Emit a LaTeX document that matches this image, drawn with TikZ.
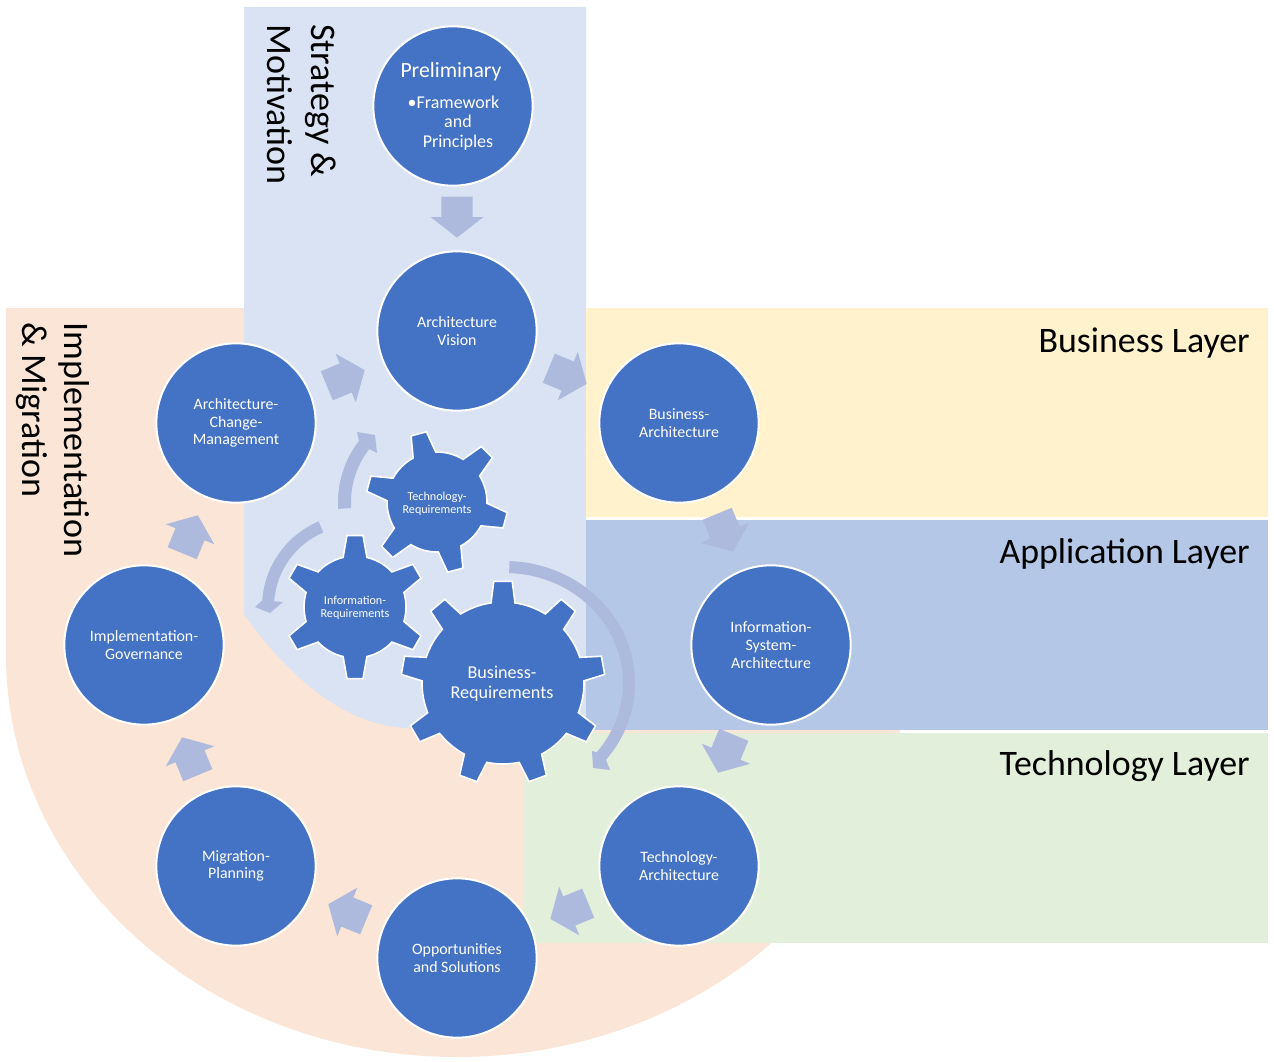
\documentclass[tikz,border=0pt]{standalone}
\usepackage{fontspec}
\setmainfont{Carlito}
\usetikzlibrary{calc,shapes.arrows}
\definecolor{stepblue}{HTML}{4472C4}
\definecolor{flowblue}{HTML}{AEBADD}
\definecolor{stratfill}{HTML}{DAE3F3}
\definecolor{implfill}{HTML}{FBE5D6}
\definecolor{bizfill}{HTML}{FFF2CC}
\definecolor{appfill}{HTML}{B4C7E7}
\definecolor{techfill}{HTML}{E2EFDA}
\tikzset{
	stepcircle/.style={circle, fill=stepblue, draw=white, line width=1.5pt, minimum size=119.5pt, inner sep=0pt, text=white, align=center, font=\fontsize{11.9}{13.2}\selectfont},
	gearline/.style={fill=stepblue, draw=white, line width=1.2pt, line join=miter},
	gearlabel/.style={text=white, align=center, inner sep=0pt},
	flowarrow/.style={single arrow, fill=flowblue, minimum width=39pt, minimum height=30.75pt, single arrow head extend=7.9pt, single arrow tip angle=104, inner xsep=0pt, inner ysep=11.6pt, anchor=tip},
	layerlabel/.style={anchor=base east, inner sep=0pt, font=\fontsize{26.9}{30}\selectfont},
	sidelabel/.style={rotate=-90, anchor=north west, align=left, inner sep=0pt, font=\fontsize{27}{33}\selectfont}
}
% centre, teeth, first angle, body radius, tip radius, base half angle, tip half angle
\newcommand{\gearshape}[7]{
	\pgfmathsetmacro{\gearstep}{360/#2}
	\begin{scope}[shift={(#1)}]
		\filldraw[gearline] ({#3-#6}:#4)
		\foreach \k [evaluate=\k as \a using {#3+(\k-1)*\gearstep}] in {1,...,#2}{
			-- ({\a-#6}:#4) -- ({\a-#7}:#5) -- ({\a+#7}:#5) -- ({\a+#6}:#4)
			arc[start angle=\a+#6, end angle=\a+\gearstep-#6, radius=#4]
		} -- cycle;
	\end{scope}
}
% centre, start angle, end angle, inner radius, outer radius, inner wing, tip, outer wing
\newcommand{\bentarrow}[8]{
	\fill[flowblue] ($(#1)+(#2:#4)$) arc[start angle=#2, end angle=#3, radius=#4]
		-- (#6) -- (#7) -- (#8) -- ($(#1)+(#3:#5)$)
		arc[start angle=#3, end angle=#2, radius=#5] -- cycle;
}

\begin{document}
\begin{tikzpicture}[x=0.75pt,y=-0.75pt]
	\useasboundingbox (0,0) rectangle (1274,1062);

	% areas
	\fill[implfill] (6,308) rectangle (400,656);
	\fill[implfill] (6,655) arc[start angle=180, end angle=0, x radius=451, y radius=402] -- cycle;
	\fill[stratfill] (244,7) -- (586,7) -- (586,728) -- (410,728) .. controls (350,728) and (290,680) .. (244,614) -- cycle;
	\fill[bizfill] (586,308) rectangle (1268,517);
	\fill[appfill] (586,520) rectangle (1268,730);
	\fill[techfill] (524,733) rectangle (1268,943);

	% labels of the areas
	\node[sidelabel] (strategy) at (336,24) {Strategy \&\\Motivation};
	\node[sidelabel, font=\fontsize{27}{31.8}\selectfont] (implementation) at (90,322) {Implementation\\\& Migration};
	\node[layerlabel] (business) at (1250,352.5) {Business Layer};
	\node[layerlabel] (application) at (1250,563) {Application Layer};
	\node[layerlabel] (technology) at (1250,775.5) {Technology Layer};

	% cycle
	\node[stepcircle] (prelim) at (453,106) {};
	\node[stepcircle] (vision) at (457,331) {Architecture\\Vision};
	\node[stepcircle] (busarch) at (679,423) {Business-\\Architecture};
	\node[stepcircle] (infoarch) at (771,645) {Information-\\System-\\Architecture};
	\node[stepcircle] (techarch) at (679,866) {Technology-\\Architecture};
	\node[stepcircle] (opport) at (457,958) {Opportunities\\and Solutions};
	\node[stepcircle] (migration) at (236,866) {Migration-\\Planning};
	\node[stepcircle] (governance) at (144,645) {Implementation-\\Governance};
	\node[stepcircle] (change) at (236,423) {Architecture-\\Change-\\Management};

	\node[gearlabel, text=white, font=\fontsize{16.3}{18}\selectfont] (prelimtitle) at (451,72) {Preliminary};
	\node[gearlabel, font=\fontsize{13.5}{14.6}\selectfont] (prelimtext) at (458,123) {\llap{\textbullet}Framework\\and\\Principles};

	% arrows between the steps
	\node[flowarrow, rotate=-90] (flowa) at (457,238) {};
	\node[flowarrow, rotate=-22.5] (flowb) at (587,384) {};
	\node[flowarrow, rotate=-67.5] (flowc) at (733,552) {};
	\node[flowarrow, rotate=-112.5] (flowd) at (718,773) {};
	\node[flowarrow, rotate=202.5] (flowe) at (550,919) {};
	\node[flowarrow, rotate=157.5] (flowf) at (328,904) {};
	\node[flowarrow, rotate=112.5] (flowg) at (182,737) {};
	\node[flowarrow, rotate=67.5] (flowh) at (198,515) {};
	\node[flowarrow, rotate=22.5] (flowi) at (365,370) {};

	% arrows round the gears
	\fill[flowblue] ($(505,683)+(-88:118 and 110)$) arc[start angle=-88, end angle=39, x radius=118, y radius=110]
		-- (592,751) -- (593,768) -- (610,770) -- ($(505,683)+(39:130 and 122)$)
		arc[start angle=39, end angle=-88, x radius=130, y radius=122] -- cycle;
	\bentarrow{355,607}{247}{184}{81}{93}{283,602}{270,613}{255,607}
	\bentarrow{437,502}{176}{218}{86}{99}{377,453}{375,435}{357,432}

	% gears
	\gearshape{503,683}{9}{-90}{81}{102}{8.5}{5.2}
	\gearshape{355,607}{6}{-90}{51}{72}{13.5}{6.4}
	\gearshape{437,502}{6}{-105}{50}{71}{13.5}{6.4}
	\node[gearlabel, font=\fontsize{13.6}{15}\selectfont] (busreq) at (502,684) {Business-\\Requirements};
	\node[gearlabel, font=\fontsize{9.1}{9.75}\selectfont] (inforeq) at (355,608) {Information-\\Requirements};
	\node[gearlabel, font=\fontsize{9.1}{9.75}\selectfont] (techreq) at (437,504) {Technology-\\Requirements};
\end{tikzpicture}
\end{document}
